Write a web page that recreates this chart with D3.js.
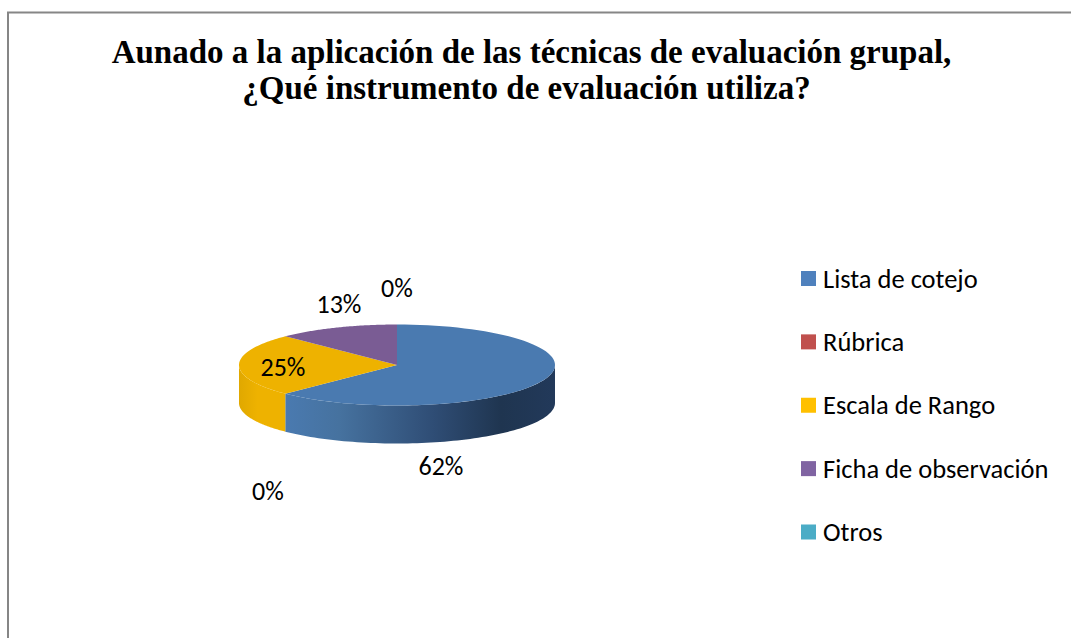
<!DOCTYPE html>
<html><head><meta charset="utf-8">
<script src="https://cdn.jsdelivr.net/npm/d3@7"></script>
<style>html,body{margin:0;padding:0;background:#fff;overflow:hidden}svg{display:block}</style>
</head><body><svg id="c" width="1071" height="638"></svg>
<script>
const titleLines = ["Aunado a la aplicación de las técnicas de evaluación grupal,", "¿Qué instrumento de evaluación utiliza?"];
const categories = ["Lista de cotejo", "Rúbrica", "Escala de Rango", "Ficha de observación", "Otros"];
const values = [62.5, 0, 25, 12.5, 0];
const valueLabels = ["62%", "0%", "25%", "13%", "0%"];
const colors = ["#4a7ab0", "#c0504d", "#eeb200", "#7a5c94", "#4bacc6"];
const legendColors = ["#4f81bd", "#c0504d", "#ffc000", "#8064a2", "#4bacc6"];
const labelAnchors = [[441,467],[268,492],[283,368],[339,305],[397,289]];

const cx = 397, cy = 365, rx = 158, ry = 40.5, depth = 38;
const svg = d3.select("#c");
const font = "Carlito, Calibri, 'Open Sans', 'Noto Sans', sans-serif";

svg.append("path").attr("d", d3.line()([[8,638],[8,12.5],[1071,12.5]]))
  .attr("fill","none").attr("stroke","#868686").attr("stroke-width",2);

const t = svg.append("g").attr("font-family","'Liberation Serif', serif").attr("font-weight","bold")
  .attr("font-size",33).attr("fill","#000").attr("text-anchor","middle");
t.append("text").attr("x",531.5).attr("y",63).text(titleLines[0]);
t.append("text").attr("x",526.5).attr("y",99).text(titleLines[1]);

const arcs = d3.pie().sort(null).value(d=>d)(values);
const ex = a => cx + rx*Math.sin(a), ey = a => cy - ry*Math.cos(a);

const defs = svg.append("defs");
function grad(id, stops, x1, x2){
  const g = defs.append("linearGradient").attr("id",id).attr("gradientUnits","userSpaceOnUse")
    .attr("x1",x1).attr("x2",x2).attr("y1",0).attr("y2",0);
  stops.forEach(s=>g.append("stop").attr("offset",s[0]).attr("stop-color",s[1]));
}
grad("blueSide", [[0,"#4a7ab0"],[0.2,"#46729f"],[0.55,"#2f4d75"],[0.8,"#1f3550"],[1,"#22395a"]], ex(arcs[0].endAngle), cx+rx);
grad("yellowSide", [[0,"#e0a800"],[0.4,"#eeb200"],[1,"#eeb200"]], cx-rx, ex(arcs[0].endAngle));

function wall(a0,a1,fill){
  const n = 80, top = d3.range(n+1).map(i=>{const a=a0+(a1-a0)*i/n;return [ex(a),ey(a)];});
  const bot = top.map(p=>[p[0],p[1]+depth]).reverse();
  svg.append("path").attr("d",d3.line()(top.concat(bot))+"Z").attr("fill",fill);
}
function face(a0,a1,fill){
  const n = 80, pts = [[cx,cy]].concat(d3.range(n+1).map(i=>{const a=a0+(a1-a0)*i/n;return [ex(a),ey(a)];}));
  svg.append("path").attr("d",d3.line()(pts)+"Z").attr("fill",fill);
}
const q = Math.PI/2;
wall(q, arcs[0].endAngle, "url(#blueSide)");
wall(arcs[2].startAngle, 3*q, "url(#yellowSide)");
arcs.forEach((d,i)=>{ if(d.endAngle>d.startAngle) face(d.startAngle,d.endAngle,colors[i]); });

const lab = svg.append("g").attr("font-family",font).attr("font-size",26).attr("fill","#000").attr("text-anchor","middle");
valueLabels.forEach((v,i)=>lab.append("text").attr("x",labelAnchors[i][0]).attr("y",labelAnchors[i][1]+8).text(v));

const y = d3.scalePoint().domain(categories).range([278.5,532]);
const leg = svg.append("g").attr("font-family",font).attr("font-size",26.5).attr("fill","#000");
categories.forEach((c,i)=>{
  leg.append("rect").attr("x",801).attr("y",y(c)-7.5).attr("width",15).attr("height",15).attr("fill",legendColors[i]);
  leg.append("text").attr("x",823).attr("y",y(c)+9).text(c);
});
</script></body></html>
